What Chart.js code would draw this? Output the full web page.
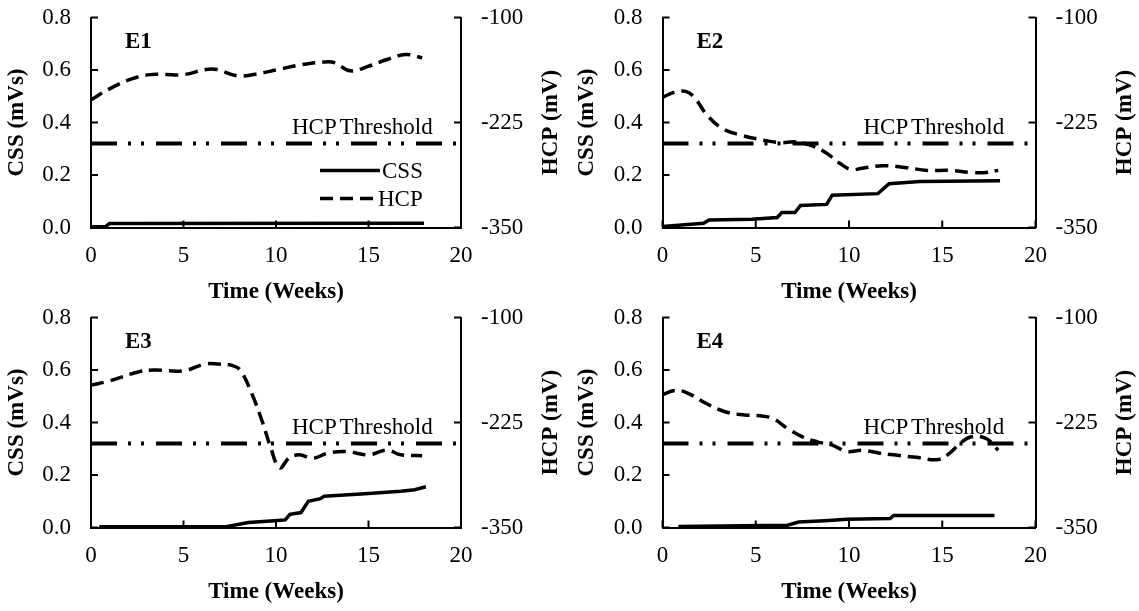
<!DOCTYPE html>
<html>
<head>
<meta charset="utf-8">
<script src="https://cdn.jsdelivr.net/npm/chart.js@4.4.1/dist/chart.umd.min.js"></script>
<style>
  html, body { margin: 0; padding: 0; background: #fff; }
  #wrap { position: relative; width: 1139px; height: 611px; overflow: hidden; }
  #wrap canvas { position: absolute; }
</style>
</head>
<body>
<div id="wrap">
  <canvas id="c1" width="570" height="306" style="left:0;top:0;width:570px;height:306px"></canvas>
  <canvas id="c2" width="569" height="306" style="left:570px;top:0;width:569px;height:306px"></canvas>
  <canvas id="c3" width="570" height="311" style="left:0;top:300px;width:570px;height:311px"></canvas>
  <canvas id="c4" width="569" height="311" style="left:570px;top:300px;width:569px;height:311px"></canvas>
</div>
<script>
// axes
const weekTicks = [0, 5, 10, 15, 20];
const cssTicks = [0, 0.2, 0.4, 0.6, 0.8];
const hcpTicks = [-350, -225, -100];
const hcpThreshold = -250;

// E1
const e1HcpWeeks = [0, 1, 2.2, 3.2, 4, 5, 6.2, 6.8, 7.9, 8.9, 10.1, 11.4, 12.6, 13.2, 14, 15, 16, 17, 17.9];
const e1HcpMv = [-198, -185, -173, -168, -168, -168, -162, -162, -169.5, -167.5, -162, -156, -153, -154, -163.5, -158, -150, -144, -148];
const e1CssWeeks = [0, 0.8, 1.0, 18];
const e1CssVal = [0.003, 0.004, 0.015, 0.016];

// E2
const e2HcpWeeks = [0, 0.65, 1.25, 1.7, 2.4, 3.2, 4.2, 5.4, 6.35, 7.1, 7.9, 8.7, 9.5, 10.1, 10.7, 11.8, 13, 14.2, 15.4, 16.6, 17.35, 18];
const e2HcpMv = [-195, -189, -188, -195, -216.5, -232, -240, -246, -249, -248, -252, -260, -273.5, -281, -279.5, -276.5, -278.5, -282, -282, -284.5, -284.5, -282];
const e2CssWeeks = [0, 2.2, 2.5, 4.8, 6.15, 6.4, 7.1, 7.4, 8.8, 9.1, 11.55, 12.15, 13.8, 18.1];
const e2CssVal = [0.004, 0.016, 0.029, 0.031, 0.038, 0.057, 0.057, 0.084, 0.088, 0.123, 0.129, 0.167, 0.175, 0.178];

// E3
const e3HcpWeeks = [0, 1, 2.6, 3.4, 5, 6.15, 6.9, 7.7, 8.1, 8.7, 9.3, 9.7, 10.2, 10.7, 11.25, 12, 12.8, 13.8, 15, 16, 16.75, 17.9];
const e3HcpMv = [-180.5, -175.5, -164.5, -162.5, -163.5, -155.5, -155.5, -157.5, -163.5, -191, -226.5, -254, -279, -267.5, -263.5, -267.5, -261.5, -259.5, -263.5, -258, -263.5, -264.5];
const e3CssWeeks = [0.45, 7.3, 8.5, 9.9, 10.5, 10.75, 11.35, 11.75, 12.4, 12.6, 14.8, 16.75, 17.5, 18.1];
const e3CssVal = [0.003, 0.003, 0.019, 0.026, 0.029, 0.05, 0.057, 0.1, 0.11, 0.119, 0.129, 0.138, 0.144, 0.155];

// E4
const e4HcpWeeks = [0, 0.65, 1.25, 2.4, 3.4, 4.4, 5.4, 5.95, 6.7, 7.5, 8.3, 9.1, 9.9, 10.7, 11.65, 12.4, 13.6, 14.8, 15.4, 15.95, 16.55, 17.35, 18];
const e4HcpMv = [-192, -187, -189, -203, -212.5, -216, -217.5, -220.5, -232, -242, -248, -252, -259.5, -258, -261.5, -263.5, -266.5, -269, -261.5, -250, -242, -244, -258];
const e4CssWeeks = [0.85, 6.7, 7.3, 8.7, 9.9, 12.2, 12.4, 17.8];
const e4CssVal = [0.004, 0.009, 0.021, 0.026, 0.031, 0.034, 0.046, 0.046];

const FAMILY = '"Liberation Serif", "Times New Roman", serif';
const tickFont = { family: FAMILY, size: 23 };
const titleFont = { family: FAMILY, size: 23, weight: 'bold' };
const CSS_DASH = [];
const HCP_DASH = [13, 7];
const THR_DASH = [26, 11, 3, 10, 3, 12];

Chart.defaults.font.family = FAMILY;
Chart.defaults.color = '#000';

const pts = (xs, ys) => xs.map((x, i) => ({ x, y: ys[i] }));
const fixedTicks = (vals) => (s) => { s.ticks = vals.map((v) => ({ value: v })); };
// pin scale box sizes so the plot area lands where the reference has it
const pinSize = (key, size) => (s) => {
  s[key] = size;
  s.paddingTop = 0; s.paddingBottom = 0; s.paddingLeft = 0; s.paddingRight = 0;
};

function panelPlugin(name, showLegend) {
  return {
    id: 'panelDecor' + name,
    afterDraw(chart) {
      const { ctx, chartArea: a, scales } = chart;
      ctx.save();
      // inner tick marks
      ctx.strokeStyle = '#000';
      ctx.lineWidth = 2;
      ctx.beginPath();
      weekTicks.forEach((v) => {
        const px = scales.x.getPixelForValue(v);
        ctx.moveTo(px, a.bottom); ctx.lineTo(px, a.bottom - 7);
      });
      cssTicks.forEach((v) => {
        const py = scales.y.getPixelForValue(v);
        ctx.moveTo(a.left, py); ctx.lineTo(a.left + 7, py);
      });
      hcpTicks.forEach((v) => {
        const py = scales.y2.getPixelForValue(v);
        ctx.moveTo(a.right, py); ctx.lineTo(a.right - 7, py);
      });
      ctx.stroke();

      ctx.fillStyle = '#000';
      // right axis title, reading bottom to top
      ctx.save();
      ctx.translate(a.right + 90, (a.top + a.bottom) / 2);
      ctx.rotate(-Math.PI / 2);
      ctx.font = 'bold 23px ' + FAMILY;
      ctx.textAlign = 'center';
      ctx.textBaseline = 'middle';
      ctx.fillText('HCP (mV)', 0, 0);
      ctx.restore();

      // panel name
      ctx.font = 'bold 23px ' + FAMILY;
      ctx.textAlign = 'left';
      ctx.textBaseline = 'middle';
      ctx.fillText(name, a.left + 34, a.top + 25);

      // threshold label
      ctx.font = '23px ' + FAMILY;
      ctx.textBaseline = 'alphabetic';
      if ('wordSpacing' in ctx) ctx.wordSpacing = '-3px';
      ctx.fillText('HCP Threshold', a.left + 201, scales.y2.getPixelForValue(hcpThreshold) - 10);
      if ('wordSpacing' in ctx) ctx.wordSpacing = '0px';

      if (showLegend) {
        const ly1 = a.top + 153, ly2 = a.top + 181;
        ctx.lineWidth = 3.5;
        ctx.setLineDash(CSS_DASH);
        ctx.beginPath(); ctx.moveTo(a.left + 229, ly1); ctx.lineTo(a.left + 289, ly1); ctx.stroke();
        ctx.setLineDash(HCP_DASH);
        ctx.beginPath(); ctx.moveTo(a.left + 229, ly2); ctx.lineTo(a.left + 286, ly2); ctx.stroke();
        ctx.setLineDash([]);
        ctx.textBaseline = 'middle';
        ctx.fillText('CSS', a.left + 291, ly1 + 1);
        ctx.fillText('HCP', a.left + 287, ly2 + 1);
      }
      ctx.restore();
    },
  };
}

function makePanel(id, name, hcpWeeks, hcpMv, cssWeeks, cssVal, box, showLegend) {
  const axisBorder = { display: true, color: '#000', width: 2 };
  const noGrid = { display: false, drawTicks: false };
  new Chart(document.getElementById(id), {
    type: 'line',
    data: {
      datasets: [
        { label: 'CSS', data: pts(cssWeeks, cssVal), yAxisID: 'y', borderColor: '#000', borderWidth: 3.5, borderDash: CSS_DASH, pointRadius: 0, tension: 0 },
        { label: 'HCP', data: pts(hcpWeeks, hcpMv), yAxisID: 'y2', borderColor: '#000', borderWidth: 3.5, borderDash: HCP_DASH, pointRadius: 0, tension: 0.4 },
        {
          label: 'HCP Threshold',
          data: pts([weekTicks[0], weekTicks[weekTicks.length - 1]], [hcpThreshold, hcpThreshold]),
          yAxisID: 'y2', borderColor: '#000', borderWidth: 4, borderDash: THR_DASH, pointRadius: 0,
        },
      ],
    },
    options: {
      responsive: false,
      animation: false,
      devicePixelRatio: 1,
      layout: { padding: { top: 17.5, left: 0, right: 0, bottom: 0 } },
      plugins: { legend: { display: false }, tooltip: { enabled: false } },
      scales: {
        x: {
          type: 'linear', position: 'bottom',
          min: weekTicks[0], max: weekTicks[weekTicks.length - 1],
          afterBuildTicks: fixedTicks(weekTicks),
          afterFit: pinSize('height', box.xH),
          grid: noGrid, border: axisBorder,
          ticks: { font: tickFont, color: '#000', padding: 15, maxRotation: 0, autoSkip: false },
          title: { display: true, text: 'Time (Weeks)', font: titleFont, color: '#000', padding: { top: 0, bottom: box.tPad } },
        },
        y: {
          position: 'left',
          min: cssTicks[0], max: cssTicks[cssTicks.length - 1],
          afterBuildTicks: fixedTicks(cssTicks),
          afterFit: pinSize('width', box.leftW),
          grid: noGrid, border: axisBorder,
          ticks: { font: tickFont, color: '#000', padding: 20, callback: (v) => Number(v).toFixed(1) },
          title: { display: true, text: 'CSS (mVs)', font: titleFont, color: '#000', padding: { top: 3, bottom: 0 } },
        },
        y2: {
          position: 'right',
          min: hcpTicks[0], max: hcpTicks[hcpTicks.length - 1],
          afterBuildTicks: fixedTicks(hcpTicks),
          afterFit: pinSize('width', box.rightW),
          grid: noGrid, border: axisBorder,
          ticks: { font: tickFont, color: '#000', padding: 20, callback: (v) => String(v) },
        },
      },
    },
    plugins: [panelPlugin(name, showLegend)],
  });
}

makePanel('c1', 'E1', e1HcpWeeks, e1HcpMv, e1CssWeeks, e1CssVal, { leftW: 91, rightW: 109, xH: 78.5, tPad: 0.5 }, true);
makePanel('c2', 'E2', e2HcpWeeks, e2HcpMv, e2CssWeeks, e2CssVal, { leftW: 92.5, rightW: 103.5, xH: 78.5, tPad: 0.5 }, false);
makePanel('c3', 'E3', e3HcpWeeks, e3HcpMv, e3CssWeeks, e3CssVal, { leftW: 91, rightW: 109, xH: 83.5, tPad: 5.5 }, false);
makePanel('c4', 'E4', e4HcpWeeks, e4HcpMv, e4CssWeeks, e4CssVal, { leftW: 92.5, rightW: 103.5, xH: 83.5, tPad: 5.5 }, false);
</script>
</body>
</html>
